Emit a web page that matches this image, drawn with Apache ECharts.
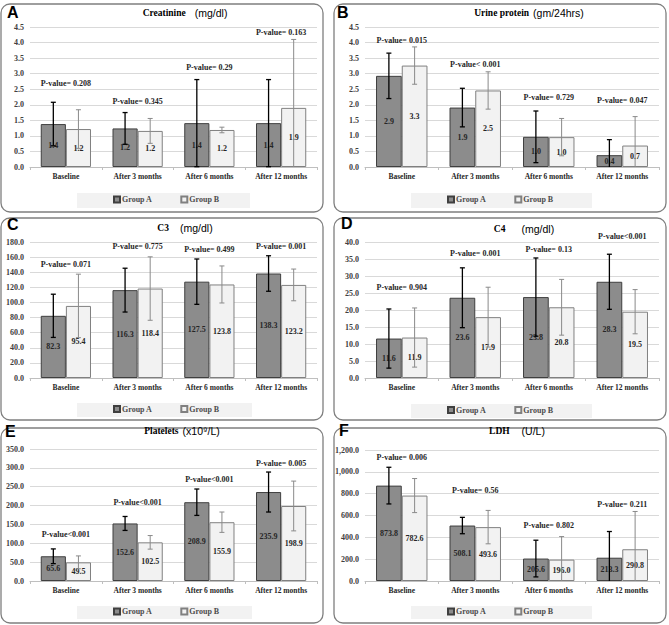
<!DOCTYPE html>
<html>
<head>
<meta charset="utf-8">
<script src="https://cdn.jsdelivr.net/npm/echarts@6/dist/echarts.min.js"></script>
<style>
  html, body { margin: 0; padding: 0; background: #fff; }
  #main { width: 669px; height: 625px; }
</style>
</head>
<body>
<div id="main"></div>
<script>
const categories = ['Baseline', 'After 3 months', 'After 6 months', 'After 12 months'];

// A - Creatinine
const creatinineA = [1.38, 1.24, 1.41, 1.41];
const creatinineB = [1.22, 1.16, 1.19, 1.9];
const creatinineSdA = [0.7, 0.51, 1.4, 1.4];
const creatinineSdB = [0.62, 0.4, 0.09, 2.2];
const creatinineP = ['P-value= 0.208', 'P-value= 0.345', 'P-value= 0.29', 'P-value= 0.163'];
const creatininePAt = [2.7, 2.12, 3.21, 4.31];
const creatinineTicks = [0, 4.5, 0.5];

// B - Urine protein
const urineA = [2.93, 1.91, 0.97, 0.38];
const urineB = [3.26, 2.46, 0.96, 0.69];
const urineSdA = [0.73, 0.62, 0.83, 0.5];
const urineSdB = [0.6, 0.6, 0.6, 0.93];
const urineP = ['P-value= 0.015', 'P-value< 0.001', 'P-value= 0.729', 'P-value= 0.047'];
const urinePAt = [4.08, 3.29, 2.23, 2.15];
const urineTicks = [0, 4.5, 0.5];

// C - C3
const c3A = [82.3, 116.3, 127.5, 138.3];
const c3B = [95.4, 118.4, 123.8, 123.2];
const c3SdA = [28.6, 29, 30, 23.5];
const c3SdB = [42, 42, 24.5, 21];
const c3P = ['P-value= 0.071', 'P-value= 0.775', 'P-value= 0.499', 'P-value= 0.001'];
const c3PAt = [150, 173.5, 170, 173.5];
const c3Ticks = [0, 180, 20];

// D - C4
const c4A = [11.6, 23.6, 23.8, 28.3];
const c4B = [11.9, 17.9, 20.8, 19.5];
const c4SdA = [8.7, 8.8, 11.5, 8.1];
const c4SdB = [8.7, 8.8, 8.2, 6.5];
const c4P = ['P-value= 0.904', 'P-value= 0.001', 'P-value= 0.13', 'P-value<0.001'];
const c4PAt = [26.7, 36.7, 37.8, 41.7];
const c4Ticks = [0, 40, 5];

// E - Platelets
const plateletsA = [65.6, 152.6, 208.9, 235.9];
const plateletsB = [49.5, 102.5, 155.9, 198.9];
const plateletsSdA = [19.5, 18.5, 35, 53];
const plateletsSdB = [17, 18, 27, 66];
const plateletsP = ['P-value<0.001', 'P-value<0.001', 'P-value<0.001', 'P-value= 0.005'];
const plateletsPAt = [124, 208, 269.5, 310.6];
const plateletsTicks = [0, 350, 50];

// F - LDH
const ldhA = [873.8, 508.1, 205.6, 213.3];
const ldhB = [782.6, 493.6, 196.0, 290.8];
const ldhSdA = [168, 75, 168, 240];
const ldhSdB = [156, 153, 211, 346];
const ldhP = ['P-value= 0.006', 'P-value= 0.56', 'P-value= 0.802', 'P-value= 0.211'];
const ldhPAt = [1132, 832, 505, 704];
const ldhTicks = [0, 1200, 200];

const panels = [
  { letter: 'A', name: 'Creatinine', unit: '(mg/dl)', a: creatinineA, b: creatinineB, sdA: creatinineSdA, sdB: creatinineSdB, p: creatinineP, pAt: creatininePAt, ticks: creatinineTicks },
  { letter: 'B', name: 'Urine protein', unit: '(gm/24hrs)', a: urineA, b: urineB, sdA: urineSdA, sdB: urineSdB, p: urineP, pAt: urinePAt, ticks: urineTicks },
  { letter: 'C', name: 'C3', unit: '(mg/dl)', a: c3A, b: c3B, sdA: c3SdA, sdB: c3SdB, p: c3P, pAt: c3PAt, ticks: c3Ticks },
  { letter: 'D', name: 'C4', unit: '(mg/dl)', a: c4A, b: c4B, sdA: c4SdA, sdB: c4SdB, p: c4P, pAt: c4PAt, ticks: c4Ticks },
  { letter: 'E', name: 'Platelets', unit: '(x10\u2079/L)', a: plateletsA, b: plateletsB, sdA: plateletsSdA, sdB: plateletsSdB, p: plateletsP, pAt: plateletsPAt, ticks: plateletsTicks },
  { letter: 'F', name: 'LDH', unit: '(U/L)', a: ldhA, b: ldhB, sdA: ldhSdA, sdB: ldhSdB, p: ldhP, pAt: ldhPAt, ticks: ldhTicks, comma: true }
];

// page layout, one entry per panel (legend: box x, y, w, h, first icon x)
const layout = [
  { box: [1, 4, 322, 208], grid: [30, 27, 287, 140], title: [185, 13], gap: 9, legend: [77, 193, 173, 15, 113], letter: [7, 12] },
  { box: [334, 4, 332, 208], grid: [365, 27, 294, 140], title: [529, 13], gap: 4, legend: [411, 193, 181, 15, 447], letter: [337, 12] },
  { box: [1, 218, 322, 202], grid: [30, 242, 287, 136], title: [185, 228], gap: 11, legend: [77, 403, 175, 14, 113], letter: [7, 224] },
  { box: [334, 218, 332, 202], grid: [365, 242, 294, 136], title: [524, 229], gap: 16, legend: [411, 404, 181, 14, 447], letter: [341, 223] },
  { box: [1, 428, 322, 195], grid: [30, 449, 287, 132], title: [182, 431], gap: 4, legend: [77, 606, 175, 13, 113], letter: [5, 431] },
  { box: [334, 428, 332, 195], grid: [365, 450, 294, 131], title: [517, 431], gap: 12, legend: [411, 606, 181, 13, 447], letter: [339, 430] }
];

const SERIF = '"Liberation Serif", "Times New Roman", serif';
const SANS = '"Liberation Sans", Arial, sans-serif';

function errorBars(sign, color, width) {
  return function (params, api) {
    const i = api.value(0), m = api.value(1), sd = api.value(2);
    const band = api.size([1, 0])[0];
    const x = api.coord([i, m])[0] + sign * band * 0.175;
    const lo = Math.max(0, m - sd);
    const top = api.coord([i, m + sd])[1];
    const bottom = api.coord([i, lo])[1];
    const cap = 2.5;
    const style = { stroke: color, lineWidth: width };
    const children = [
      { type: 'line', shape: { x1: x, y1: top, x2: x, y2: bottom }, style: style },
      { type: 'line', shape: { x1: x - cap, y1: top, x2: x + cap, y2: top }, style: style }
    ];
    if (lo > 0) {
      children.push({ type: 'line', shape: { x1: x - cap, y1: bottom, x2: x + cap, y2: bottom }, style: style });
    }
    return { type: 'group', children: children };
  };
}

const grid = [], xAxis = [], yAxis = [], series = [], legend = [], graphic = [];

panels.forEach(function (p, k) {
  const L = layout[k];
  grid.push({ left: L.grid[0], top: L.grid[1], width: L.grid[2], height: L.grid[3] });

  xAxis.push({
    type: 'category', gridIndex: k, data: categories,
    axisLine: { lineStyle: { color: '#bfbfbf' } },
    axisTick: { show: true, length: 3, lineStyle: { color: '#bfbfbf' } },
    axisLabel: { interval: 0, margin: 5, fontSize: 7.5, fontWeight: 'bold', fontFamily: SERIF, color: '#262626' }
  });

  yAxis.push({
    type: 'value', gridIndex: k, min: p.ticks[0], max: p.ticks[1], interval: p.ticks[2],
    axisLine: { show: false }, axisTick: { show: false },
    splitLine: { lineStyle: { color: '#d9d9d9' } },
    axisLabel: {
      margin: 6, fontSize: 8, fontWeight: 'bold', fontFamily: SERIF, color: '#404040',
      formatter: function (v) {
        return p.comma ? v.toLocaleString('en-US', { minimumFractionDigits: 1, maximumFractionDigits: 1 }) : v.toFixed(1);
      }
    }
  });

  const label = {
    show: true, position: 'inside', fontSize: 8, fontWeight: 'bold', fontFamily: SERIF,
    color: '#262626', textBorderWidth: 0,
    formatter: function (d) { return d.value.toFixed(1); }
  };

  series.push({
    name: 'Group A', type: 'bar', xAxisIndex: k, yAxisIndex: k, data: p.a,
    barGap: '0%', barCategoryGap: '30%', z: 2,
    itemStyle: { color: '#8c8c8c', borderColor: '#3f3f3f', borderWidth: 1 },
    label: label
  });
  series.push({
    name: 'Group B', type: 'bar', xAxisIndex: k, yAxisIndex: k, data: p.b,
    barGap: '0%', barCategoryGap: '30%', z: 2,
    itemStyle: { color: '#f2f2f2', borderColor: '#808080', borderWidth: 1 },
    label: label
  });
  series.push({
    type: 'custom', xAxisIndex: k, yAxisIndex: k, z: 4, silent: true,
    data: p.a.map(function (v, i) { return [i, v, p.sdA[i]]; }),
    renderItem: errorBars(-1, '#000000', 1.3)
  });
  series.push({
    type: 'custom', xAxisIndex: k, yAxisIndex: k, z: 4, silent: true,
    data: p.b.map(function (v, i) { return [i, v, p.sdB[i]]; }),
    renderItem: errorBars(1, '#8a8a8a', 1)
  });
  // p-value annotations
  series.push({
    type: 'custom', xAxisIndex: k, yAxisIndex: k, z: 5, silent: true, clip: false,
    data: p.pAt.map(function (v, i) { return [i, v]; }),
    renderItem: function (params, api) {
      const pt = api.coord([api.value(0), api.value(1)]);
      return {
        type: 'text', x: pt[0], y: pt[1],
        style: {
          text: p.p[params.dataIndex], align: 'center', verticalAlign: 'middle',
          fontSize: 8, fontWeight: 'bold', fontFamily: SERIF, fill: '#262626'
        }
      };
    }
  });

  legend.push({
    data: ['Group A', 'Group B'], left: L.legend[4], top: L.legend[1] + L.legend[3] / 2 - 5,
    padding: 0, itemGap: 28, height: 10, icon: 'rect',
    itemWidth: 6, itemHeight: 6, selectedMode: false,
    textStyle: { fontSize: 8, fontWeight: 'bold', fontFamily: SERIF, color: '#4d4d4d', padding: [0, 0, 0, -3] }
  });

  // legend background strip
  graphic.push({
    type: 'rect', silent: true, z: -1,
    shape: { x: L.legend[0], y: L.legend[1], width: L.legend[2], height: L.legend[3] },
    style: { fill: '#f2f2f2' }
  });
  // rounded panel frame
  graphic.push({
    type: 'rect', silent: true,
    shape: { x: L.box[0], y: L.box[1], width: L.box[2], height: L.box[3], r: 9 },
    style: { fill: 'none', stroke: '#7f7f7f', lineWidth: 1.3 }
  });
  graphic.push({
    type: 'text', silent: true, x: L.letter[0], y: L.letter[1],
    style: { text: p.letter, align: 'left', verticalAlign: 'middle', font: 'bold 16px ' + SANS, fill: '#000' }
  });
  graphic.push({
    type: 'text', silent: true, x: L.title[0], y: L.title[1],
    style: {
      text: '{n|' + p.name + '}{u|' + p.unit + '}', align: 'center', verticalAlign: 'middle',
      rich: {
        n: { fontSize: 9.5, fontWeight: 'bold', fontFamily: SERIF, color: '#262626' },
        u: { fontSize: 10.5, fontFamily: SANS, color: '#595959', padding: [0, 0, 0, L.gap] }
      }
    }
  });
});

const chart = echarts.init(document.getElementById('main'), null, { renderer: 'svg' });
chart.setOption({
  backgroundColor: '#ffffff',
  animation: false,
  grid: grid,
  xAxis: xAxis,
  yAxis: yAxis,
  legend: legend,
  graphic: graphic,
  series: series
});
</script>
</body>
</html>
